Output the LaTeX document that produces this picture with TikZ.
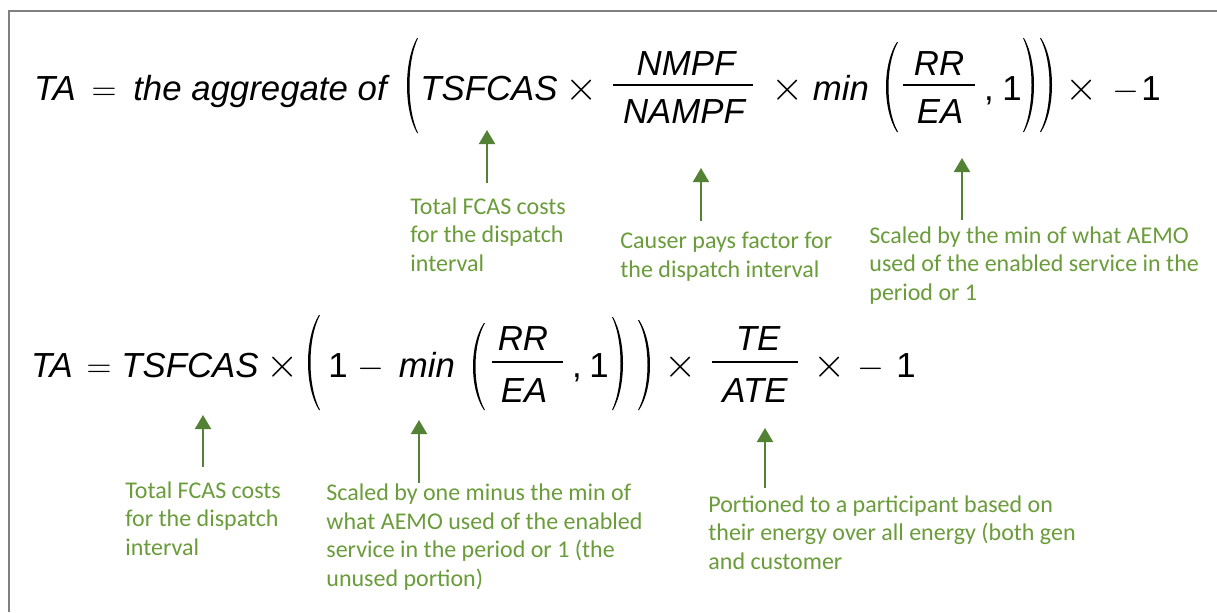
\documentclass[tikz,border=0pt]{standalone}
\usepackage{fontspec}
\setmainfont{Liberation Sans}
\newfontfamily\notefont{Carlito}
\usetikzlibrary{arrows.meta}

\definecolor{eqink}{RGB}{0,0,0}
\definecolor{notegreen}{RGB}{106,156,58}
\definecolor{arrowgreen}{RGB}{84,130,53}
\definecolor{framegray}{RGB}{128,128,128}

% Tall parenthesis as a filled crescent:
% #1 tip x, #2 top y, #3 bottom y, #4 outer bulge x, #5 inner bulge x
\newcommand\drawfence[5]{%
  \pgfmathsetmacro\fenceE{(#4-#1)*0.09}%
  \pgfmathsetmacro\fenceO{#1+\fenceE+(#4-#1-\fenceE)*4/3}%
  \pgfmathsetmacro\fenceI{#1+(#5-#1)*4/3}%
  \pgfmathsetmacro\fenceA{#2+(#3-#2)*0.25}%
  \pgfmathsetmacro\fenceB{#3-(#3-#2)*0.25}%
  \fill[eqink] ({#1+\fenceE},#2) .. controls (\fenceO,\fenceA) and (\fenceO,\fenceB) .. ({#1+\fenceE},#3)
     -- (#1,#3) .. controls (\fenceI,\fenceB) and (\fenceI,\fenceA) .. (#1,#2) -- cycle;}

\tikzset{
  eq/.style={anchor=base, inner sep=0pt, text=eqink, font=\fontsize{17.4}{20}\selectfont\itshape},
  eqrm/.style={anchor=base, inner sep=0pt, text=eqink, font=\fontsize{17.4}{20}\selectfont},
  % thin math operators
  eqop/.style={anchor=base, inner sep=0pt, text=eqink, font=\fontsize{17.4}{20}\selectfont},
  eqtimes/.style={anchor=base, inner sep=0pt, text=eqink, font=\fontsize{19.5}{22}\selectfont},
  fracbar/.style={eqink, line width=1pt},
  % placed by the baseline of the last line
  note/.style={anchor=base west, inner sep=0pt, align=left, text=notegreen,
    font=\notefont\fontsize{12}{14.2}\selectfont},
  pointer/.style={arrowgreen, line width=1pt, -{Triangle[width=8pt,length=7pt]}},
  frame/.style={framegray, line width=1pt}
}

\begin{document}
\begin{tikzpicture}[x=0.5pt, y=-0.5pt]
\useasboundingbox (0,0) rectangle (1217,612);
\fill[white] (0,0) rectangle (1217,612);
\draw[frame] (1217,11) -- (9,11) -- (9,612);

% ---------- first formula ----------
\node[eq]      (ta1)   at (55,100)   {TA};
\node[eqop]    (eqa1)  at (104,100)  {$=$};
\node[eq]      (agg)   at (260,100)  {the aggregate of};
\drawfence{418}{38}{133}{407}{409.5}
\node[eq]      (tsf1)  at (489,100)  {TSFCAS};
\node[eqtimes] (x11)   at (582,100)  {$\times$};
\node[eq]      (nmpf)  at (686,75)   {NMPF};
\draw[fracbar] (613,85) -- (753,85);
\node[eq]      (nampf) at (684,123)  {NAMPF};
\node[eqtimes] (x12)   at (788,100)  {$\times$};
\node[eq]      (min1)  at (841,100)  {min};
\drawfence{898}{42}{132}{886}{888.5}
\node[eq]      (rr1)   at (939,75)   {RR};
\draw[fracbar] (903,85) -- (975,85);
\node[eq]      (ea1)   at (940,123)  {EA};
\node[eqrm]    (cm1)   at (989,100)  {,};
\node[eqrm]    (one1)  at (1012,100) {1};
\drawfence{1023}{38}{132}{1034}{1031.5}
\drawfence{1040}{38}{132}{1052}{1049.5}
\node[eqtimes] (x13)   at (1082,100) {$\times$};
\node[eqop]    (mn1)   at (1126,100) {$-$};
\node[eqrm]    (neg1)  at (1151,100) {1};

% notes under the first formula
\node[note] (n1) at (410,271) {Total FCAS costs\\for the dispatch\\interval};
\node[note] (n2) at (620,277) {Causer pays factor for\\the dispatch interval};
\node[note] (n3) at (869,300) {Scaled by the min of what AEMO\\used of the enabled service in the\\period or 1};

\coordinate (p1) at (487,183); \coordinate (q1) at (487,130);
\coordinate (p2) at (701,221); \coordinate (q2) at (701,168);
\coordinate (p3) at (962,220); \coordinate (q3) at (962,158);
\draw[pointer] (p1) -- (q1);
\draw[pointer] (p2) -- (q2);
\draw[pointer] (p3) -- (q3);

% ---------- second formula ----------
\node[eq]      (ta2)   at (52,377)   {TA};
\node[eqop]    (eqa2)  at (99,377)   {$=$};
\node[eq]      (tsf2)  at (190,377)  {TSFCAS};
\node[eqtimes] (x21)   at (283,377)  {$\times$};
\drawfence{320}{315}{410}{308}{310.5}
\node[eqrm]    (one2)  at (338,377)  {1};
\node[eqop]    (mn2)   at (371,377)  {$-$};
\node[eq]      (min2)  at (427,377)  {min};
\drawfence{485}{323}{410}{473}{475.5}
\node[eq]      (rr2)   at (523,350)  {RR};
\draw[fracbar] (492,362) -- (563,362);
\node[eq]      (ea2)   at (524,402)  {EA};
\node[eqrm]    (cm2)   at (577,377)  {,};
\node[eqrm]    (one3)  at (599,377)  {1};
\drawfence{612}{317}{410}{623}{620.5}
\drawfence{638}{320}{410}{650}{647.5}
\node[eqtimes] (x22)   at (681,377)  {$\times$};
\node[eq]      (te)    at (758,350)  {TE};
\draw[fracbar] (712,362) -- (798,362);
\node[eq]      (ate)   at (755,402)  {ATE};
\node[eqtimes] (x23)   at (830,377)  {$\times$};
\node[eqop]    (mn3)   at (871,377)  {$-$};
\node[eqrm]    (neg2)  at (906,377)  {1};

% notes under the second formula
\node[note] (n4) at (125,555) {Total FCAS costs\\for the dispatch\\interval};
\node[note] (n5) at (326,586) {Scaled by one minus the min of\\what AEMO used of the enabled\\service in the period or 1 (the\\unused portion)};
\node[note] (n6) at (708,569) {Portioned to a participant based on\\their energy over all energy (both gen\\and customer};

\coordinate (p4) at (203,467); \coordinate (q4) at (203,415);
\coordinate (p5) at (419,483); \coordinate (q5) at (419,420);
\coordinate (p6) at (765,488); \coordinate (q6) at (765,428);
\draw[pointer] (p4) -- (q4);
\draw[pointer] (p5) -- (q5);
\draw[pointer] (p6) -- (q6);
\end{tikzpicture}
\end{document}
